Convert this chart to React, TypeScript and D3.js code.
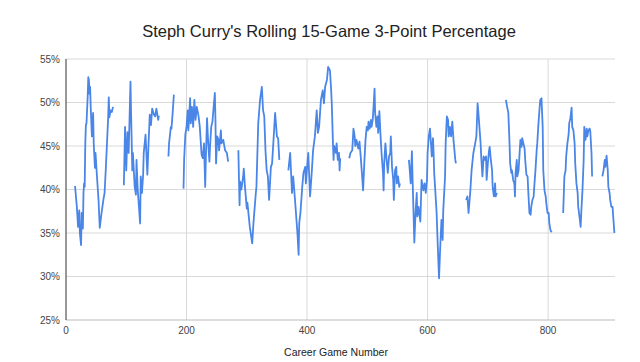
import React from "react";
import * as d3 from "d3";

const games: (number | null)[] = [
  15,16,18,19,20,22,23,25,26,28,29,30,31,32,33,34,36,37,38,39,40,41,43,45,46,48,49,51,54,56,59,62,64,66,68,70,71,72,74,76,78,null,
  96,98,100,102,104,107,108,110,111,114,116,117,119,123,124,126,128,129,132,135,137,139,141,143,146,148,150,153,154,null,
  170,171,174,175,177,179,null,
  195,196,198,200,202,203,206,207,209,211,213,215,217,220,222,225,227,229,231,232,234,236,238,239,241,243,245,247,248,249,251,253,254,257,258,261,264,267,269,null,
  286,288,289,291,294,295,297,300,301,305,309,311,315,316,319,322,325,327,329,331,333,335,337,340,342,344,347,350,352,354,null,
  369,372,375,377,380,384,386,387,389,392,394,397,398,401,402,405,408,410,413,416,418,420,423,426,428,430,433,435,438,440,441,443,444,445,448,449,451,453,454,455,null,
  470,472,475,477,479,480,482,485,487,489,491,493,495,497,499,501,502,504,506,507,509,511,512,513,515,517,518,520,522,524,526,527,528,530,532,534,536,538,539,541,543,544,546,548,549,551,553,554,null,
  569,570,572,574,575,577,578,580,582,583,585,588,590,593,595,597,599,600,602,604,607,609,610,611,613,615,617,619,621,623,625,626,629,630,632,634,635,637,639,641,643,646,647,null,
  664,666,668,671,673,676,679,681,683,684,686,688,689,691,693,695,697,698,700,702,703,705,707,708,710,712,713,715,null,
  730,732,734,736,737,739,740,742,744,745,746,748,749,751,752,754,756,757,759,761,762,764,766,767,769,771,772,774,776,777,779,781,782,784,786,787,789,791,792,794,796,797,799,801,802,804,806,null,
  825,827,829,830,832,834,835,837,839,840,842,844,845,847,849,850,852,854,855,857,859,860,862,864,865,867,869,870,872,873,null,
  890,892,894,895,897,899,900,902,903,905,907,908,910,
];

const threePct: (number | null)[] = [
  40.4,39.6,38.0,36.9,35.7,37.6,35.0,33.6,37.3,35.5,39.6,40.7,40.3,45.3,47.4,47.6,50.7,52.9,52.6,51.0,51.8,49.5,46.1,48.8,45.3,42.5,44.2,41.9,38.8,35.6,37.3,38.8,39.6,42.3,45.3,48.3,50.6,48.3,49.1,48.9,49.5,null,
  40.5,47.2,42.2,46.6,44.2,52.4,48.8,42.2,44.2,40.3,39.4,43.4,40.0,36.1,41.5,39.6,41.7,44.2,46.3,41.7,45.3,48.6,47.4,49.3,48.6,48.4,49.3,48.0,48.5,null,
  43.8,45.3,47.2,47.0,48.8,50.9,null,
  40.1,43.4,46.3,47.2,49.1,46.8,50.5,47.6,49.5,47.2,50.3,48.0,49.5,48.4,47.2,44.0,43.6,45.3,40.3,43.4,48.2,45.3,43.2,44.9,47.2,47.8,49.5,51.1,48.0,43.0,46.1,45.7,44.5,46.8,45.3,45.7,44.5,44.2,43.2,null,
  44.5,38.2,40.9,40.0,41.5,42.4,40.3,37.8,38.5,35.7,33.8,36.1,39.6,40.3,47.6,50.3,51.8,49.1,48.4,44.5,42.2,41.5,38.8,42.6,43.0,45.3,48.8,46.1,45.9,43.4,null,
  42.2,44.2,39.6,41.5,38.8,35.0,32.5,36.1,37.3,40.3,41.9,42.6,40.7,43.4,44.2,39.2,42.2,44.5,46.1,49.1,46.5,47.2,50.3,51.4,49.9,51.8,52.6,54.1,53.7,51.4,49.9,45.3,43.4,45.0,44.2,45.3,43.4,44.2,42.2,43.6,null,
  43.6,44.2,44.5,47.0,46.1,45.0,45.7,44.7,45.5,43.8,41.9,39.9,43.0,45.7,47.2,46.8,47.8,47.0,48.0,47.2,48.0,50.3,51.6,48.8,47.2,48.4,46.5,49.0,46.1,43.8,41.9,39.9,43.0,45.3,43.4,41.9,43.8,44.2,46.1,42.6,41.1,38.8,42.2,42.6,40.7,41.5,40.3,40.7,null,
  43.4,42.6,40.7,44.4,41.5,36.5,33.9,37.3,39.6,36.9,38.0,36.3,41.1,39.9,40.7,39.6,41.1,44.2,46.1,47.0,43.8,45.9,44.2,41.9,39.6,37.3,33.4,29.8,33.4,36.5,34.2,37.6,41.5,45.3,48.4,48.0,46.1,47.2,46.1,47.8,45.7,43.4,43.0,null,
  38.8,39.2,37.3,39.9,42.2,44.2,45.3,46.1,49.9,49.1,47.2,45.3,43.8,41.5,43.8,43.4,43.8,41.1,43.0,44.5,44.9,43.4,42.2,40.3,39.2,40.7,39.2,39.6,null,
  50.3,49.5,48.8,45.3,43.0,41.9,42.2,41.1,40.7,39.2,41.9,43.4,41.5,42.2,43.4,45.7,44.9,45.9,45.3,44.7,43.4,41.7,41.5,39.9,37.3,37.1,38.0,38.8,39.2,40.3,42.2,44.5,45.3,47.6,49.5,50.3,50.5,47.2,42.2,39.9,39.2,38.4,37.3,37.3,36.1,35.3,35.1,null,
  37.3,41.5,42.2,43.8,45.3,46.3,47.6,48.2,49.4,47.2,46.8,45.3,43.0,40.7,39.6,38.0,36.9,35.7,37.3,39.9,43.4,47.2,45.7,47.0,46.1,46.8,47.0,46.7,44.2,41.5,null,
  41.5,42.2,43.4,42.6,43.9,42.2,40.3,39.6,38.8,38.0,38.0,36.9,35.0,
];

const yTicks = [25, 30, 35, 40, 45, 50, 55];
const xTicks = [0, 200, 400, 600, 800];
const title = "Steph Curry's Rolling 15-Game 3-Point Percentage";
const xTitle = "Career Game Number";

const W = 640;
const H = 362;
const M = { left: 66, right: 25, top: 59, bottom: 42 };
const FONT = "'Liberation Sans', Arial, sans-serif";

export default function App() {
  const x = d3.scaleLinear().domain([0, 911]).range([M.left, W - M.right]);
  const y = d3.scaleLinear().domain([25, 55]).range([H - M.bottom, M.top]);

  const pts = games.map((g, i) => ({ g, v: threePct[i] }));
  const line = d3
    .line<{ g: number | null; v: number | null }>()
    .defined((d) => d.g !== null && d.v !== null)
    .x((d) => x(d.g as number))
    .y((d) => y(d.v as number));

  return (
    <svg
      width={W}
      height={H}
      style={{ position: "absolute", left: 0, top: 0, background: "#fff" }}
      fontFamily={FONT}
    >
      <rect x={0} y={0} width={W} height={H} fill="#fff" />
      <text x={329} y={37} textAnchor="middle" fontSize={16.5} fill="#222">
        {title}
      </text>
      {yTicks.map((t) => (
        <g key={"y" + t}>
          {t !== 25 && (
            <line x1={x(0)} x2={x(911)} y1={y(t)} y2={y(t)} stroke="#d9d9d9" strokeWidth={1} />
          )}
          <text x={60} y={y(t) + 3.5} textAnchor="end" fontSize={10} fill="#444">
            {t + "%"}
          </text>
        </g>
      ))}
      {xTicks.map((t) => (
        <g key={"x" + t}>
          {t !== 0 && (
            <line x1={x(t)} x2={x(t)} y1={y(55)} y2={y(25)} stroke="#d9d9d9" strokeWidth={1} />
          )}
          <text x={x(t)} y={y(25) + 14} textAnchor="middle" fontSize={10} fill="#444">
            {t}
          </text>
        </g>
      ))}
      <line x1={x(0)} x2={x(911)} y1={y(25)} y2={y(25)} stroke="#bbb" strokeWidth={1} />
      <line x1={x(0)} x2={x(0)} y1={y(55)} y2={y(25)} stroke="#333" strokeWidth={1} />
      <path d={line(pts) || ""} fill="none" stroke="#4a86e8" strokeWidth={1.8} strokeLinejoin="round" />
      <text x={336} y={356} textAnchor="middle" fontSize={10.5} fill="#222">
        {xTitle}
      </text>
    </svg>
  );
}
